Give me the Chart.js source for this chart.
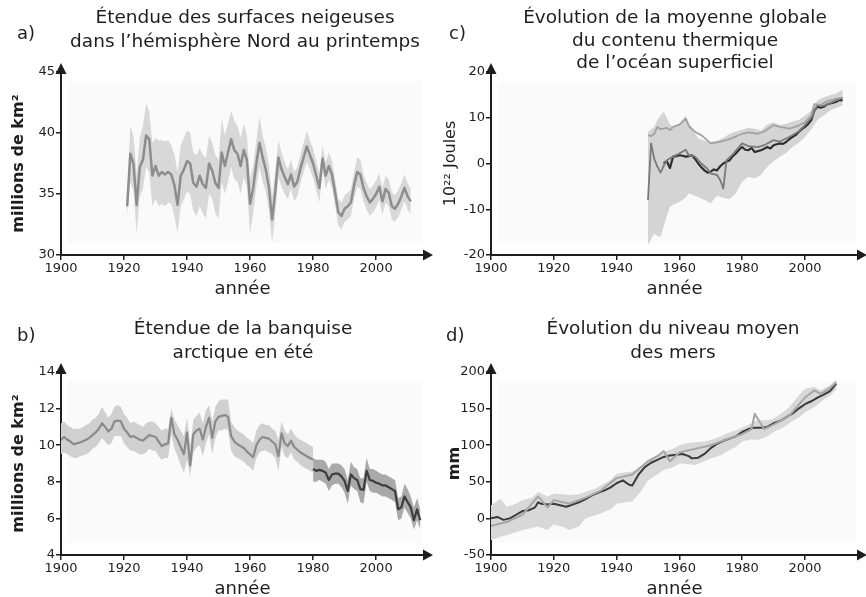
<!DOCTYPE html>
<html lang="fr">
<head>
<meta charset="utf-8">
<title>Indicateurs du changement climatique</title>
<script src="https://cdn.jsdelivr.net/npm/chart.js@4.4.1/dist/chart.umd.min.js"></script>
<style>
  html, body { margin: 0; padding: 0; background: #fff; overflow: hidden; }
  body { width: 866px; height: 597px; position: relative; font-family: 'DejaVu Sans', sans-serif; color: #1e1e1e; }
  .panel { position: absolute; width: 433px; height: 300px; }
  .panel canvas { position: absolute; left: 0; top: 0; }
  .letter { position: absolute; font-size: 18px; line-height: 22px; }
  .title { position: absolute; text-align: center; font-size: 18.5px; white-space: nowrap; }
</style>
</head>
<body>

<div class="panel" style="left:0;top:0">
  <canvas id="chartA" width="433" height="300"></canvas>
  <div class="letter" style="left:17px;top:22px">a)</div>
  <div class="title" style="left:45px;width:400px;top:5px;line-height:24px">Étendue des surfaces neigeuses<br>dans l’hémisphère Nord au printemps</div>
</div>

<div class="panel" style="left:433px;top:0">
  <canvas id="chartC" width="433" height="300"></canvas>
  <div class="letter" style="left:16px;top:22px">c)</div>
  <div class="title" style="left:42px;width:400px;top:6px;line-height:22.5px">Évolution de la moyenne globale<br>du contenu thermique<br>de l’océan superficiel</div>
</div>

<div class="panel" style="left:0;top:300px">
  <canvas id="chartB" width="433" height="300"></canvas>
  <div class="letter" style="left:17px;top:24px">b)</div>
  <div class="title" style="left:43px;width:400px;top:16px;line-height:24px">Étendue de la banquise<br>arctique en été</div>
</div>

<div class="panel" style="left:433px;top:300px">
  <canvas id="chartD" width="433" height="300"></canvas>
  <div class="letter" style="left:13px;top:24px">d)</div>
  <div class="title" style="left:40px;width:400px;top:16px;line-height:24px">Évolution du niveau moyen<br>des mers</div>
</div>

<script>
// axis ticks
const yearTicks = [1900, 1920, 1940, 1960, 1980, 2000];
const snowTicks = [30, 35, 40, 45];
const iceTicks = [4, 6, 8, 10, 12, 14];
const heatTicks = [-20, -10, 0, 10, 20];
const seaTicks = [-50, 0, 50, 100, 150, 200];

// a) snow cover, northern hemisphere spring (millions km2)
const snowYears = [1921, 1922, 1923, 1924, 1925, 1926, 1927, 1928, 1929, 1930,
  1931, 1932, 1933, 1934, 1935, 1936, 1937, 1938, 1939, 1940,
  1941, 1942, 1943, 1944, 1945, 1946, 1947, 1948, 1949, 1950,
  1951, 1952, 1953, 1954, 1955, 1956, 1957, 1958, 1959, 1960,
  1961, 1962, 1963, 1964, 1965, 1966, 1967, 1968, 1969, 1970,
  1971, 1972, 1973, 1974, 1975, 1976, 1977, 1978, 1979, 1980,
  1981, 1982, 1983, 1984, 1985, 1986, 1987, 1988, 1989, 1990,
  1991, 1992, 1993, 1994, 1995, 1996, 1997, 1998, 1999, 2000,
  2001, 2002, 2003, 2004, 2005, 2006, 2007, 2008, 2009, 2010, 2011];
const snowMean = [34.0, 38.3, 37.5, 34.1, 37.2, 37.8, 39.8, 39.5, 36.5, 37.3,
  36.5, 36.8, 36.6, 36.8, 36.6, 35.7, 34.1, 36.5, 37.0, 37.7,
  37.5, 35.9, 35.6, 36.5, 35.8, 35.5, 37.5, 36.9, 35.9, 35.5,
  38.4, 37.3, 38.4, 39.5, 38.6, 38.3, 37.3, 38.6, 37.8, 34.2,
  35.5, 37.5, 39.2, 38.0, 37.0, 35.5, 32.9, 35.2, 38.0, 37.0,
  36.4, 35.8, 36.6, 35.6, 36.0, 37.1, 38.0, 38.9, 38.2, 37.5,
  36.5, 35.5, 37.9, 36.5, 37.3, 36.6, 35.1, 33.5, 33.2, 33.8,
  34.0, 34.3, 35.7, 36.8, 36.6, 35.5, 34.8, 34.3, 34.6, 35.0,
  35.6, 34.4, 35.4, 35.1, 34.0, 33.8, 34.2, 34.8, 35.5, 34.8, 34.4];
const snowHigh = [35.0, 40.6, 39.8, 36.6, 39.6, 40.6, 42.4, 41.8, 39.2, 39.6,
  39.4, 39.4, 39.3, 39.4, 39.0, 38.2, 36.8, 39.0, 39.6, 40.2,
  40.0, 38.4, 38.2, 38.8, 38.2, 38.0, 39.8, 39.2, 38.2, 37.8,
  41.2, 39.8, 40.8, 41.8, 41.0, 40.6, 39.6, 40.8, 39.8, 36.2,
  37.4, 39.4, 41.4, 39.8, 38.8, 37.4, 34.8, 37.0, 39.4, 38.4,
  37.6, 37.0, 37.8, 36.8, 37.2, 38.3, 39.2, 40.2, 39.4, 38.7,
  37.7, 36.7, 39.0, 37.6, 38.4, 37.7, 36.2, 34.6, 34.3, 34.9,
  35.1, 35.4, 36.8, 38.0, 37.8, 36.6, 35.9, 35.4, 35.7, 36.1,
  36.7, 35.5, 36.5, 36.2, 35.1, 34.9, 35.3, 35.9, 36.6, 35.9, 35.4];
const snowLow = [33.2, 36.0, 35.2, 31.8, 34.8, 35.4, 37.2, 36.8, 34.0, 34.6,
  34.0, 34.2, 34.0, 34.3, 34.2, 33.2, 31.8, 34.0, 34.6, 35.2,
  35.0, 33.6, 33.2, 34.0, 33.4, 33.0, 35.0, 34.6, 33.4, 33.0,
  36.0, 35.0, 36.0, 37.2, 36.2, 36.0, 35.0, 36.4, 35.6, 31.8,
  33.4, 35.6, 37.2, 36.0, 35.2, 33.6, 31.0, 33.4, 36.4, 35.6,
  35.0, 34.6, 35.4, 34.4, 34.8, 35.9, 36.8, 37.6, 37.0, 36.3,
  35.3, 34.3, 36.8, 35.4, 36.2, 35.5, 34.0, 32.4, 32.1, 32.7,
  32.9, 33.2, 34.6, 35.6, 35.4, 34.4, 33.7, 33.2, 33.5, 33.9,
  34.5, 33.3, 34.3, 34.0, 32.9, 32.7, 33.1, 33.7, 34.4, 33.7, 33.4];

// b) arctic summer sea ice (millions km2), before and after 1980
const iceYears = [1900, 1901, 1902, 1903, 1904, 1905, 1906, 1908, 1909, 1910,
  1911, 1912, 1913, 1914, 1915, 1916, 1917, 1918, 1919, 1920,
  1921, 1922, 1923, 1924, 1925, 1926, 1927, 1928, 1929, 1930,
  1931, 1932, 1933, 1934, 1935, 1936, 1937, 1938, 1939, 1940,
  1941, 1942, 1943, 1944, 1945, 1946, 1947, 1948, 1949, 1950,
  1951, 1952, 1953, 1954, 1955, 1956, 1957, 1958, 1959, 1960,
  1961, 1962, 1963, 1964, 1965, 1966, 1967, 1968, 1969, 1970,
  1971, 1972, 1973, 1974, 1975, 1976, 1977, 1978, 1979, 1980];
const iceMean = [10.3, 10.45, 10.3, 10.2, 10.05, 10.1, 10.15, 10.3, 10.4, 10.55,
  10.7, 10.9, 11.2, 11.0, 10.75, 10.9, 11.3, 11.35, 11.3, 10.9,
  10.7, 10.45, 10.5, 10.4, 10.3, 10.25, 10.4, 10.55, 10.5, 10.45,
  10.2, 9.95, 10.05, 10.1, 11.5, 10.6, 10.3, 9.9, 9.5, 10.7,
  8.9, 10.6, 10.8, 10.9, 10.3, 11.0, 11.5, 10.4, 11.3, 11.55,
  11.6, 11.65, 11.55, 10.5, 10.2, 10.05, 9.95, 9.85, 9.65, 9.5,
  9.35, 10.0, 10.3, 10.45, 10.4, 10.35, 10.2, 10.05, 9.4, 10.65,
  10.1, 9.95, 10.25, 9.9, 9.75, 9.6, 9.5, 9.4, 9.3, 9.2];
const iceHigh = [11.2, 11.3, 11.1, 11.0, 10.9, 10.9, 10.9, 11.1, 11.2, 11.4,
  11.5, 11.7, 12.1, 11.8, 11.5, 11.7, 12.1, 12.2, 12.1, 11.7,
  11.5, 11.2, 11.3, 11.2, 11.1, 11.0, 11.2, 11.3, 11.3, 11.2,
  11.0, 10.8, 10.9, 10.9, 12.0, 11.4, 11.1, 10.8, 10.5, 11.5,
  10.0, 11.4, 11.6, 11.8, 11.2, 11.9, 12.2, 11.3, 12.1, 12.4,
  12.5, 12.5, 12.5, 11.3, 11.0, 10.8, 10.7, 10.6, 10.4, 10.3,
  10.1, 10.8, 11.1, 11.2, 11.1, 11.1, 10.9, 10.8, 10.3, 11.3,
  10.8, 10.6, 10.9, 10.6, 10.4, 10.3, 10.2, 10.1, 10.0, 9.9];
const iceLow = [9.5, 9.6, 9.5, 9.4, 9.3, 9.3, 9.4, 9.5, 9.6, 9.8,
  9.9, 10.1, 10.4, 10.2, 10.0, 10.1, 10.5, 10.5, 10.5, 10.1,
  9.9, 9.7, 9.7, 9.6, 9.5, 9.5, 9.6, 9.8, 9.7, 9.7,
  9.4, 9.2, 9.3, 9.3, 10.6, 9.8, 9.4, 8.9, 8.5, 9.2,
  8.3, 9.6, 9.9, 10.0, 9.4, 10.1, 10.6, 9.5, 10.4, 10.8,
  10.8, 10.9, 10.8, 9.7, 9.4, 9.3, 9.2, 9.1, 8.9, 8.8,
  8.6, 9.3, 9.6, 9.7, 9.7, 9.6, 9.5, 9.3, 8.6, 9.9,
  9.4, 9.3, 9.6, 9.2, 9.1, 8.9, 8.8, 8.7, 8.6, 8.5];
const satYears = [1980, 1981, 1982, 1983, 1984, 1985, 1986, 1987, 1988, 1989,
  1990, 1991, 1992, 1993, 1994, 1995, 1996, 1997, 1998, 1999,
  2000, 2001, 2002, 2003, 2004, 2005, 2006, 2007, 2008, 2009,
  2010, 2011, 2012, 2013, 2014];
const satMean = [8.7, 8.6, 8.65, 8.6, 8.5, 8.1, 8.4, 8.45, 8.45, 8.3,
  8.05, 7.5, 8.4, 8.2, 8.1, 7.6, 7.55, 8.6, 8.1, 8.05,
  7.95, 7.9, 7.8, 7.8, 7.7, 7.6, 7.5, 6.5, 6.6, 7.2,
  6.9, 6.6, 5.9, 6.5, 5.9];
const satHigh = [9.3, 9.2, 9.2, 9.2, 9.1, 8.7, 9.0, 9.0, 9.0, 8.9,
  8.7, 8.1, 9.1, 8.8, 8.7, 8.2, 8.2, 9.3, 8.7, 8.7,
  8.6, 8.5, 8.4, 8.4, 8.3, 8.2, 8.1, 7.1, 7.2, 7.9,
  7.6, 7.2, 6.6, 7.1, 6.5];
const satLow = [8.0, 8.0, 8.1, 8.0, 7.9, 7.5, 7.8, 7.9, 7.9, 7.7,
  7.4, 6.8, 7.8, 7.6, 7.5, 6.9, 6.8, 8.0, 7.5, 7.4,
  7.4, 7.3, 7.2, 7.2, 7.1, 7.0, 6.9, 5.9, 6.0, 6.6,
  6.3, 6.0, 5.4, 5.9, 5.4];

// c) upper ocean heat content (10^22 J)
const heatBandYears = [1950, 1951, 1952, 1953, 1954, 1955, 1956, 1957, 1958, 1960,
  1962, 1963, 1964, 1966, 1968, 1970, 1972, 1974, 1976, 1978,
  1980, 1982, 1984, 1986, 1988, 1990, 1992, 1994, 1996, 1998,
  2000, 2002, 2004, 2006, 2008, 2010, 2012];
const heatHigh = [6.9, 7.5, 8.0, 9.5, 10.5, 11.3, 10.0, 8.5, 8.0, 8.5,
  10.5, 9.0, 7.5, 5.5, 5.0, 4.7, 5.0, 5.6, 6.5, 7.0,
  7.4, 7.8, 7.6, 7.2, 8.5, 9.0, 8.4, 8.7, 9.2, 9.5,
  10.5, 11.5, 13.8, 14.5, 14.9, 15.3, 16.2];
const heatLow = [-17.8, -16.5, -15.3, -15.8, -16.0, -13.8, -11.5, -9.5, -9.0, -8.4,
  -7.5, -6.5, -6.8, -7.3, -8.0, -8.7, -7.0, -7.5, -7.8, -6.5,
  -4.0, -2.9, -3.3, -2.5, -0.7, 0.5, 1.5, 2.3, 3.6, 4.5,
  5.8, 7.5, 9.5, 10.5, 11.6, 12.2, 12.7];
const heatYearsA = [1955, 1956, 1957, 1958, 1959, 1960, 1961, 1962, 1963, 1964,
  1965, 1966, 1967, 1968, 1969, 1970, 1971, 1972, 1973, 1974,
  1975, 1976, 1977, 1978, 1979, 1980, 1981, 1982, 1983, 1984,
  1985, 1986, 1987, 1988, 1989, 1990, 1991, 1992, 1993, 1994,
  1995, 1996, 1997, 1998, 1999, 2000, 2001, 2002, 2003, 2004,
  2005, 2006, 2007, 2008, 2009, 2010, 2011, 2012];
const heatA = [0.0, 0.5, -1.0, 1.5, 1.6, 1.8, 1.7, 1.5, 1.6, 1.8,
  1.0, 0.0, -0.8, -1.5, -2.0, -1.8, -1.3, -1.5, -0.6, 0.0,
  0.4, 0.7, 1.6, 2.2, 3.0, 3.6, 3.0, 2.9, 3.4, 2.5,
  2.7, 2.9, 3.2, 3.6, 3.3, 4.0, 4.2, 4.4, 4.3, 4.7,
  5.3, 5.8, 6.2, 6.9, 7.5, 8.0, 8.6, 9.5, 11.6, 12.4,
  12.2, 12.4, 12.9, 13.1, 13.3, 13.5, 13.9, 13.8];
const heatYearsB = [1950, 1951, 1952, 1953, 1954, 1955, 1956, 1958, 1960, 1962,
  1963, 1965, 1967, 1969, 1970, 1972, 1973, 1974, 1975, 1977,
  1980, 1982, 1985, 1987, 1990, 1992, 1995, 1998, 2000, 2002,
  2004, 2006, 2008, 2010, 2012];
const heatB = [-8.0, 4.4, 1.0, -0.7, -2.0, -0.5, 0.7, 1.5, 2.2, 3.0,
  1.8, 1.5, 0.0, -1.2, -2.2, -2.5, -3.6, -5.5, 0.7, 2.0,
  4.4, 3.8, 3.6, 4.0, 5.1, 4.8, 5.8, 7.0, 8.4, 10.0,
  12.8, 12.6, 13.2, 13.8, 14.4];
const heatYearsC = [1950, 1951, 1952, 1953, 1954, 1955, 1956, 1957, 1958, 1960,
  1962, 1963, 1965, 1967, 1969, 1970, 1972, 1975, 1977, 1980,
  1982, 1985, 1987, 1990, 1992, 1995, 1998, 2000, 2002, 2003,
  2005, 2007, 2010, 2012];
const heatC = [6.2, 6.0, 6.5, 8.0, 7.5, 7.6, 7.8, 7.3, 8.0, 8.5,
  9.8, 8.2, 6.9, 6.2, 5.0, 4.4, 4.6, 5.1, 5.6, 6.5,
  6.8, 6.5, 7.0, 8.4, 8.0, 7.6, 8.3, 9.0, 10.5, 13.0,
  12.8, 13.6, 14.2, 14.4];

// d) global mean sea level (mm)
const seaBandYears = [1900, 1903, 1905, 1908, 1910, 1913, 1915, 1918, 1920, 1923,
  1925, 1928, 1930, 1933, 1935, 1938, 1940, 1943, 1945, 1948,
  1950, 1953, 1955, 1958, 1960, 1963, 1965, 1968, 1970, 1973,
  1975, 1978, 1980, 1983, 1985, 1988, 1990, 1993, 1995, 1998,
  2000, 2003, 2005, 2008, 2010];
const seaHigh = [18, 27, 16, 20, 25, 28, 36, 30, 34, 33,
  32, 33, 36, 40, 45, 52, 61, 63, 64, 72,
  80, 87, 91, 95, 100, 103, 104, 105, 107, 112,
  116, 120, 124, 130, 134, 134, 136, 145, 152, 168,
  177, 180, 175, 182, 190];
const seaLow = [-30, -25, -23, -19, -16, -13, -11, -16, -8, -12,
  -16, -11, 0, 4, 7, 12, 20, 22, 23, 38,
  52, 60, 66, 70, 75, 74, 73, 78, 82, 86,
  91, 98, 105, 108, 107, 112, 118, 124, 130, 138,
  145, 152, 159, 168, 176];
const seaYearsA = [1900, 1902, 1904, 1906, 1908, 1910, 1912, 1914, 1915, 1916,
  1918, 1920, 1922, 1924, 1926, 1928, 1930, 1932, 1934, 1936,
  1938, 1940, 1942, 1944, 1945, 1947, 1949, 1951, 1953, 1955,
  1957, 1959, 1961, 1963, 1964, 1966, 1968, 1970, 1972, 1974,
  1976, 1978, 1980, 1982, 1984, 1986, 1988, 1990, 1992, 1994,
  1996, 1998, 2000, 2002, 2004, 2006, 2008, 2010];
const seaA = [0, 2, -2, 0, 5, 10, 11, 15, 22, 20,
  19, 20, 18, 16, 19, 22, 26, 31, 35, 38,
  42, 48, 52, 46, 45, 60, 70, 76, 80, 84,
  86, 87, 88, 85, 82, 83, 88, 96, 102, 106,
  109, 112, 118, 122, 124, 124, 125, 130, 133, 138,
  143, 150, 156, 160, 165, 169, 174, 184];
const seaYearsB = [1900, 1905, 1910, 1915, 1918, 1920, 1925, 1930, 1935, 1940,
  1945, 1950, 1953, 1955, 1957, 1960, 1965, 1970, 1975, 1980,
  1983, 1984, 1987, 1990, 1995, 2000, 2003, 2005, 2008, 2010];
const seaB = [-10, -5, 5, 30, 15, 25, 20, 28, 38, 55,
  60, 78, 85, 92, 78, 90, 95, 100, 108, 115,
  122, 143, 122, 128, 140, 165, 175, 170, 178, 186];

const INK = '#1e1e1e';
const FONT = 'DejaVu Sans';

const pts = (xs, ys) => xs.map((x, i) => ({ x: x, y: ys[i] }));

function band(xs, hi, lo, color) {
  return [
    { data: pts(xs, hi), fill: '+1', backgroundColor: color, borderColor: 'rgba(0,0,0,0)', borderWidth: 0, pointRadius: 0, order: 5 },
    { data: pts(xs, lo), fill: false, borderColor: 'rgba(0,0,0,0)', borderWidth: 0, pointRadius: 0, order: 5 }
  ];
}

function line(xs, ys, color, width) {
  return { data: pts(xs, ys), fill: false, borderColor: color, borderWidth: width, pointRadius: 0, order: 1, borderJoinStyle: 'round' };
}

// arrowheads at the end of both axes
const axisArrows = {
  id: 'axisArrows',
  afterDraw(chart) {
    const { ctx, chartArea: { left, right, top, bottom } } = chart;
    ctx.save();
    ctx.fillStyle = INK;
    ctx.beginPath();
    ctx.moveTo(right + 9, bottom);
    ctx.lineTo(right - 1, bottom - 5.5);
    ctx.lineTo(right - 1, bottom + 5.5);
    ctx.closePath();
    ctx.fill();
    ctx.beginPath();
    ctx.moveTo(left, top - 9);
    ctx.lineTo(left - 5.5, top + 2);
    ctx.lineTo(left + 5.5, top + 2);
    ctx.closePath();
    ctx.fill();
    ctx.restore();
  }
};

// faint grey box behind the curves
const plotBackdrop = {
  id: 'plotBackdrop',
  beforeDatasetsDraw(chart) {
    const { ctx, chartArea: a } = chart;
    ctx.save();
    ctx.fillStyle = '#fafafa';
    ctx.fillRect(a.left + 6, a.top + 9, a.right - a.left - 8, a.bottom - a.top - 21);
    ctx.restore();
  }
};

function makePanel(id, cfg) {
  new Chart(document.getElementById(id), {
    type: 'line',
    data: { datasets: cfg.datasets },
    plugins: [plotBackdrop, axisArrows],
    options: {
      responsive: false,
      animation: false,
      events: [],
      layout: { padding: { top: 72, right: cfg.padRight, left: 0, bottom: 0 } },
      elements: { line: { tension: 0 } },
      plugins: { legend: { display: false }, tooltip: { enabled: false }, title: { display: false } },
      scales: {
        x: {
          type: 'linear',
          min: 1900,
          max: cfg.xMax,
          afterBuildTicks: s => { s.ticks = yearTicks.map(v => ({ value: v })); },
          afterFit: s => { s.height = 45; },
          grid: { drawOnChartArea: false, drawTicks: true, tickLength: 5, color: INK, lineWidth: 1.5 },
          border: { color: INK, width: 2 },
          ticks: { color: INK, font: { family: FONT, size: 13 }, padding: 1, maxRotation: 0, autoSkip: false, callback: v => String(v) },
          title: { display: true, text: 'année', color: INK, font: { family: FONT, size: 18 }, padding: { top: 0, bottom: 0 } }
        },
        y: {
          type: 'linear',
          min: cfg.yMin,
          max: cfg.yMax,
          afterBuildTicks: s => { s.ticks = cfg.yTicks.map(v => ({ value: v })); },
          afterFit: s => { s.width = cfg.yWidth; },
          grid: { drawOnChartArea: false, drawTicks: true, tickLength: 5, color: INK, lineWidth: 1.5 },
          border: { color: INK, width: 2 },
          ticks: { color: INK, font: { family: FONT, size: 13 }, padding: 1, autoSkip: false, callback: v => String(v) },
          title: { display: true, text: cfg.yTitle, color: INK, font: { family: FONT, size: 16, weight: cfg.yBold ? 'bold' : 'normal' }, padding: { top: cfg.yTitlePad, bottom: 0 } }
        }
      }
    }
  });
}

makePanel('chartA', {
  xMax: 2015.2, padRight: 9, yWidth: 61, yMin: 30, yMax: 45, yTicks: snowTicks,
  yTitle: 'millions de km²', yBold: true, yTitlePad: 9,
  datasets: [
    ...band(snowYears, snowHigh, snowLow, '#d8d8d8'),
    line(snowYears, snowMean, '#8d8d8d', 2.5)
  ]
});

makePanel('chartB', {
  xMax: 2015.2, padRight: 9, yWidth: 61, yMin: 4, yMax: 14, yTicks: iceTicks,
  yTitle: 'millions de km²', yBold: true, yTitlePad: 9,
  datasets: [
    ...band(iceYears, iceHigh, iceLow, '#d0d0d0'),
    ...band(satYears, satHigh, satLow, '#a9a9a9'),
    line(iceYears, iceMean, '#8a8a8a', 2.2),
    line(satYears, satMean, '#3d3d3d', 2.2)
  ]
});

makePanel('chartC', {
  xMax: 2016.9, padRight: 8, yWidth: 58, yMin: -20, yMax: 20, yTicks: heatTicks,
  yTitle: '10²² Joules', yBold: false, yTitlePad: 8,
  datasets: [
    ...band(heatBandYears, heatHigh, heatLow, '#d4d4d4'),
    line(heatYearsC, heatC, '#a2a2a2', 1.8),
    line(heatYearsB, heatB, '#7a7a7a', 1.8),
    line(heatYearsA, heatA, '#2e2e2e', 2.2)
  ]
});

makePanel('chartD', {
  xMax: 2016.9, padRight: 8, yWidth: 58, yMin: -50, yMax: 200, yTicks: seaTicks,
  yTitle: 'mm', yBold: true, yTitlePad: 12,
  datasets: [
    ...band(seaBandYears, seaHigh, seaLow, '#d8d8d8'),
    line(seaYearsB, seaB, '#a6a6a6', 2),
    line(seaYearsA, seaA, '#3a3a3a', 2)
  ]
});
</script>
</body>
</html>
